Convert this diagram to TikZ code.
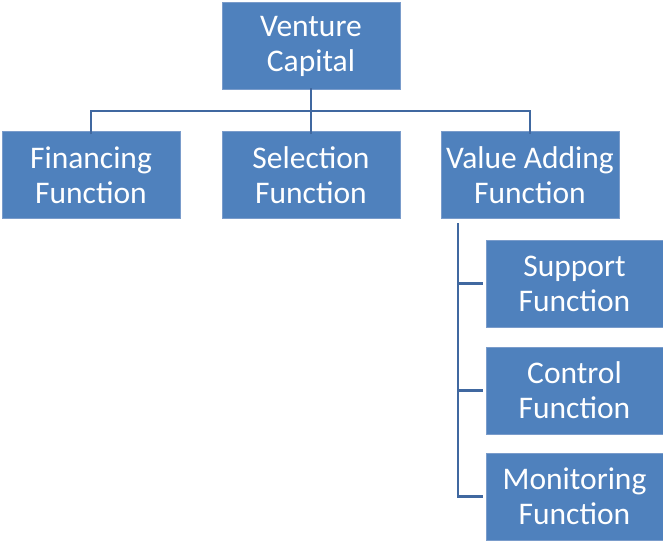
\documentclass[tikz,border=0pt]{standalone}
\usepackage{fontspec}
\setmainfont{Carlito}
\definecolor{boxfill}{HTML}{4F81BD}
\definecolor{boxline}{HTML}{7A9CCB}
\definecolor{conn}{HTML}{4068A0}
\begin{document}
\begin{tikzpicture}[x=1pt,y=-1pt,
  vcbox/.style={draw=boxline,line width=1pt,fill=boxfill,text=white,
    minimum width=178pt,minimum height=87pt,inner sep=0pt,align=center,
    font=\fontsize{31.5}{35}\selectfont},
  link/.style={draw=conn,line width=2.6pt}]
\useasboundingbox (0,0) rectangle (663,541);
\node[vcbox] (vc) at (311,46) {Venture\\Capital};
\node[vcbox] (fin) at (91,175) {Financing\\Function};
\node[vcbox] (sel) at (311,175) {Selection\\Function};
\node[vcbox] (val) at (530,175) {Value Adding\\Function};
\node[vcbox,minimum width=177pt] (sup) at (574.5,283.5) {Support\\Function};
\node[vcbox,minimum width=177pt] (con) at (574.5,390.5) {Control\\Function};
\node[vcbox,minimum width=177pt] (mon) at (574.5,496.5) {Monitoring\\Function};
\coordinate (hb) at (311,111);
\coordinate (vx) at (458,223);
\draw[link] ([yshift=2pt]vc.south) -- ([yshift=-3pt]sel.north);
\draw[link] ([yshift=-3pt]fin.north) |- (hb) -| ([yshift=-3pt]val.north);
\draw[link] (vx) |- ([xshift=-3pt]mon.west);
\draw[link] (vx |- sup.west) -- ([xshift=-3pt]sup.west);
\draw[link] (vx |- con.west) -- ([xshift=-3pt]con.west);
\end{tikzpicture}
\end{document}
